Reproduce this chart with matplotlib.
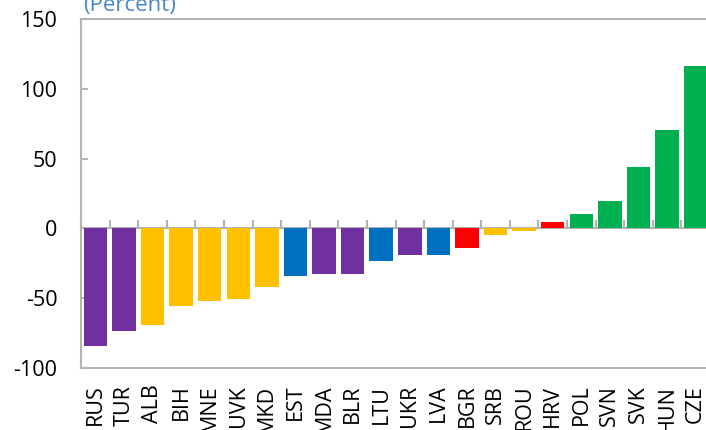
import matplotlib
matplotlib.use("Agg")
import matplotlib.pyplot as plt

plt.rcParams['font.family'] = ['Open Sans', 'DejaVu Sans']
plt.rcParams['axes.unicode_minus'] = False

laender = ["RUS", "TUR", "ALB", "BIH", "MNE", "UVK", "MKD", "EST", "MDA", "BLR", "LTU",
           "UKR", "LVA", "BGR", "SRB", "ROU", "HRV", "POL", "SVN", "SVK", "HUN", "CZE"]
wartosci = [-84.5, -73.8, -69.5, -55.9, -52.3, -50.9, -42.3, -34.4, -32.7, -32.7, -23.6,
            -19.3, -19.3, -14.1, -4.8, -1.9, 4.3, 10.0, 19.5, 43.7, 70.2, 116.0]
grupy = ["p", "p", "y", "y", "y", "y", "y", "b", "p", "p", "b",
         "p", "b", "r", "y", "y", "r", "g", "g", "g", "g", "g"]

KOLORY = {"p": "#7030A0", "y": "#FFC000", "b": "#0070C0", "r": "#FF0000", "g": "#00B050"}
SZARY = "#B4B4B4"

fig = plt.figure(figsize=(7.06, 4.30), dpi=100)
ax = fig.add_axes([81 / 706, 62 / 430, 629 / 706, 349 / 430])

x = range(len(laender))
ax.bar(x, wartosci, width=0.82, color=[KOLORY[g] for g in grupy], zorder=2)

ax.set_xlim(-0.5, len(laender) - 0.5)
ymin, ymax = -100, 150
ax.set_ylim(ymin, ymax)
ax.set_yticks(range(ymin, ymax + 1, 50))

ax.set_xticks(list(x))
ax.set_xticklabels(laender, rotation=90, va='top', fontsize=15.5)
ax.tick_params(axis='x', length=0, pad=12)
ax.tick_params(axis='y', direction='in', length=5, width=1.5, color=SZARY,
               labelsize=15.5, pad=17)

for s in ax.spines.values():
    s.set_color(SZARY)
    s.set_linewidth(1.5)

# os zerowa z kreskami miedzy kategoriami
zero = ax.secondary_xaxis((0 - ymin) / (ymax - ymin))
zero.set_xticks([i - 0.5 for i in x])
zero.set_xticklabels([])
zero.tick_params(direction='in', length=6, width=1.5, color=SZARY)
zero.spines['bottom'].set_color(SZARY)
zero.spines['bottom'].set_linewidth(1.5)

fig.text(83 / 706, (430 - 11.5) / 430, "(Percent)", color="#4A86C4", fontsize=16,
         va='baseline', ha='left')

fig.savefig("out.png", dpi=100)
